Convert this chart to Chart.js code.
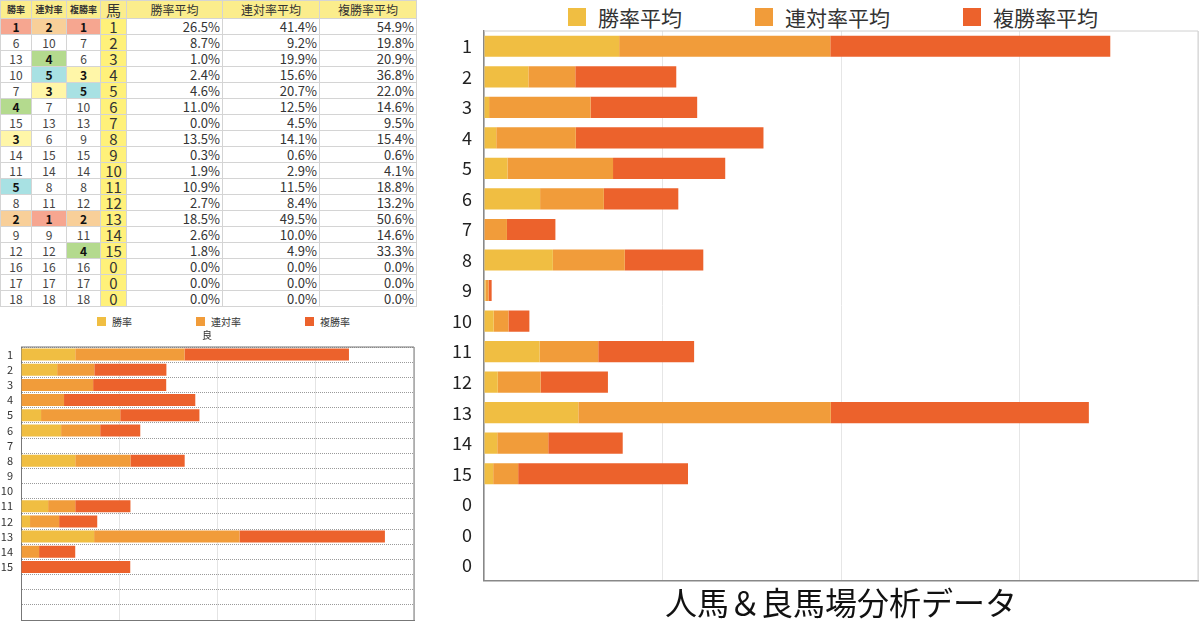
<!DOCTYPE html>
<html>
<head>
<meta charset="utf-8">
<script src="https://cdn.jsdelivr.net/npm/chart.js@4"></script>
<style>
  body { margin: 0; background: #fff; font-family: "Noto Sans CJK JP", "Noto Sans", sans-serif; }
  #page { position: relative; width: 1200px; height: 623px; overflow: hidden; }
  #tbl { position: absolute; left: 0; top: 0; border-collapse: collapse; table-layout: fixed; color: #333; }
  #tbl td, #tbl th { border: 1px solid #d4d4d4; padding: 0; line-height: 1; overflow: hidden; white-space: nowrap; }
  #tbl th { background: #fbed8c; height: 17px; font-size: 12px; font-weight: normal; }
  #tbl th.rk { font-size: 9px; font-weight: bold; }
  #tbl th.uma { font-size: 15px; background: #fbed8c; }
  #tbl td { height: 15px; }
  #tbl td.rk { font-size: 12px; text-align: center; color: #444; }
  #tbl td.rk.top { font-weight: bold; color: #111; }
  #tbl td.uma { background: #fff17a; font-size: 15px; text-align: center; }
  #tbl td.pct { font-size: 13px; text-align: right; padding-right: 2px; }
  .legend { position: absolute; display: flex; align-items: center; color: #333; }
  .legend .item { display: flex; align-items: center; }
  .legend .box { display: inline-block; }
  .wrap { position: absolute; }
</style>
</head>
<body>
<div id="page">
  <table id="tbl"></table>
  <div id="smallLegend" class="legend" style="left:97px; top:314px; font-size:10px;"></div>
  <div class="wrap" style="left:0; top:326px; width:420px; height:297px;"><canvas id="smallChart"></canvas></div>
  <div id="bigLegend" class="legend" style="left:568px; top:2px; font-size:21px;"></div>
  <div class="wrap" style="left:440px; top:0; width:760px; height:623px;"><canvas id="bigChart"></canvas></div>
</div>
<script>
const horseNo = ["1", "2", "3", "4", "5", "6", "7", "8", "9", "10", "11", "12", "13", "14", "15", "0", "0", "0"];
const winRank = [1, 6, 13, 10, 7, 4, 15, 3, 14, 11, 5, 8, 2, 9, 12, 16, 17, 18];
const renRank = [2, 10, 4, 5, 3, 7, 13, 6, 15, 14, 8, 11, 1, 9, 12, 16, 17, 18];
const fukuRank = [1, 7, 6, 3, 5, 10, 13, 9, 15, 14, 8, 12, 2, 11, 4, 16, 17, 18];
const winAvg = [26.5, 8.7, 1.0, 2.4, 4.6, 11.0, 0.0, 13.5, 0.3, 1.9, 10.9, 2.7, 18.5, 2.6, 1.8, 0.0, 0.0, 0.0];
const renAvg = [41.4, 9.2, 19.9, 15.6, 20.7, 12.5, 4.5, 14.1, 0.6, 2.9, 11.5, 8.4, 49.5, 10.0, 4.9, 0.0, 0.0, 0.0];
const fukuAvg = [54.9, 19.8, 20.9, 36.8, 22.0, 14.6, 9.5, 15.4, 0.6, 4.1, 18.8, 13.2, 50.6, 14.6, 33.3, 0.0, 0.0, 0.0];

// 良馬場 small chart
const goodLabels = ["1", "2", "3", "4", "5", "6", "7", "8", "9", "10", "11", "12", "13", "14", "15", "", "", ""];
const goodWin = [27.6, 18.4, 0, 0, 10.2, 20.4, 0, 27.6, 0, 0, 13.8, 4.6, 37.2, 0, 0, 0, 0, 0];
const goodRen = [55.6, 18.9, 36.7, 21.9, 40.3, 19.9, 0, 28.1, 0, 0, 13.8, 14.8, 74.0, 9.2, 0, 0, 0, 0];
const goodFuku = [83.7, 36.7, 37.2, 66.8, 40.3, 20.4, 0, 27.6, 0, 0, 28.1, 19.4, 74.0, 18.4, 55.6, 0, 0, 0];

const colWin = "#f0be42", colRen = "#f19c3a", colFuku = "#ec622c";
const rankColors = { 1: "#f6a690", 2: "#f8cf99", 3: "#fff6a8", 4: "#b4da8e", 5: "#a8e1e3" };
const fontFamily = '"Noto Sans CJK JP", "Noto Sans", sans-serif';

// table
function buildTable() {
  const colW = [31, 35, 34, 26, 96, 97, 97];
  let html = "<colgroup>" + colW.map(w => '<col style="width:' + w + 'px">').join("") + "</colgroup>";
  html += '<tr><th class="rk">勝率</th><th class="rk">連対率</th><th class="rk">複勝率</th><th class="uma">馬</th>' +
    "<th>勝率平均</th><th>連対率平均</th><th>複勝率平均</th></tr>";
  const rkCell = (r) => {
    const bg = rankColors[r] ? ' style="background:' + rankColors[r] + '"' : "";
    return '<td class="rk' + (r <= 5 ? " top" : "") + '"' + bg + ">" + r + "</td>";
  };
  for (let i = 0; i < horseNo.length; i++) {
    html += "<tr>" + rkCell(winRank[i]) + rkCell(renRank[i]) + rkCell(fukuRank[i]) +
      '<td class="uma">' + horseNo[i] + "</td>" +
      '<td class="pct">' + winAvg[i].toFixed(1) + "%</td>" +
      '<td class="pct">' + renAvg[i].toFixed(1) + "%</td>" +
      '<td class="pct">' + fukuAvg[i].toFixed(1) + "%</td></tr>";
  }
  document.getElementById("tbl").innerHTML = html;
}
buildTable();

const frameBox = {
  id: "frameBox",
  afterDraw(chart, args, opts) {
    const { ctx, chartArea: a } = chart;
    ctx.save();
    ctx.strokeStyle = opts.color;
    ctx.lineWidth = opts.width;
    ctx.beginPath();
    ctx.moveTo(a.left, a.top);
    ctx.lineTo(a.right, a.top);
    ctx.lineTo(a.right, a.bottom);
    ctx.stroke();
    ctx.restore();
  }
};

function htmlLegend(chart, elId, box, gap, itemGap) {
  const el = document.getElementById(elId);
  el.style.gap = itemGap + "px";
  Chart.defaults.plugins.legend.labels.generateLabels(chart).forEach((item) => {
    const d = document.createElement("span");
    d.className = "item";
    d.innerHTML = '<span class="box" style="width:' + box + "px;height:" + box + "px;background:" +
      item.fillStyle + ";margin-right:" + gap + 'px"></span>' + item.text;
    el.appendChild(d);
  });
}

const smallChart = new Chart(document.getElementById("smallChart"), {
  type: "bar",
  data: {
    labels: goodLabels,
    datasets: [
      { label: "勝率", data: goodWin, backgroundColor: colWin },
      { label: "連対率", data: goodRen, backgroundColor: colRen },
      { label: "複勝率", data: goodFuku, backgroundColor: colFuku }
    ]
  },
  options: {
    indexAxis: "y",
    responsive: true,
    maintainAspectRatio: false,
    animation: false,
    datasets: { bar: { barPercentage: 0.9, categoryPercentage: 0.88 } },
    layout: { padding: { bottom: 3, right: 6 } },
    scales: {
      x: {
        stacked: true, min: 0, max: 200,
        ticks: { display: false, stepSize: 50 },
        grid: { color: "#e4e4e4", drawTicks: false },
        border: { color: "#777", width: 1 }
      },
      y: {
        stacked: true,
        afterFit: (s) => { s.width = 21; s.paddingTop = 0; s.paddingBottom = 0; },
        ticks: { autoSkip: false, color: "#333", padding: 8, font: { family: fontFamily, size: 11 } },
        grid: { color: "#9a9a9a", drawTicks: false },
        border: { color: "#777", width: 1, dash: [1, 1] }
      }
    },
    plugins: {
      legend: { display: false },
      tooltip: { enabled: false },
      title: { display: true, text: "良", color: "#333", padding: { top: 3, bottom: 6 }, font: { family: fontFamily, size: 10, weight: "normal" } },
      frameBox: { color: "#777", width: 1 }
    }
  },
  plugins: [frameBox]
});
htmlLegend(smallChart, "smallLegend", 9, 6, 64);

const bigChart = new Chart(document.getElementById("bigChart"), {
  type: "bar",
  data: {
    labels: horseNo,
    datasets: [
      { label: "勝率平均", data: winAvg, backgroundColor: colWin },
      { label: "連対率平均", data: renAvg, backgroundColor: colRen },
      { label: "複勝率平均", data: fukuAvg, backgroundColor: colFuku }
    ]
  },
  options: {
    indexAxis: "y",
    responsive: true,
    maintainAspectRatio: false,
    animation: false,
    datasets: { bar: { barPercentage: 0.9, categoryPercentage: 0.77 } },
    layout: { padding: { top: 31, right: 2 } },
    scales: {
      x: {
        stacked: true, min: 0, max: 140,
        ticks: { display: false, stepSize: 35 },
        grid: { color: "#e6e6e6", drawTicks: false },
        border: { color: "#888", width: 1.5 }
      },
      y: {
        stacked: true,
        afterFit: (s) => { s.width = 44; },
        ticks: { autoSkip: false, color: "#222", padding: 12, font: { family: fontFamily, size: 18 } },
        grid: { display: false, drawTicks: false },
        border: { color: "#888", width: 1.5 }
      }
    },
    plugins: {
      legend: { display: false },
      tooltip: { enabled: false },
      title: { display: true, position: "bottom", fullSize: false, text: "人馬＆良馬場分析データ", color: "#111", padding: { top: 3, bottom: 1 }, font: { family: fontFamily, size: 32, weight: "normal" } },
      frameBox: { color: "#d0d0d0", width: 1 }
    }
  },
  plugins: [frameBox]
});
htmlLegend(bigChart, "bigLegend", 18, 12, 73);
</script>
</body>
</html>
